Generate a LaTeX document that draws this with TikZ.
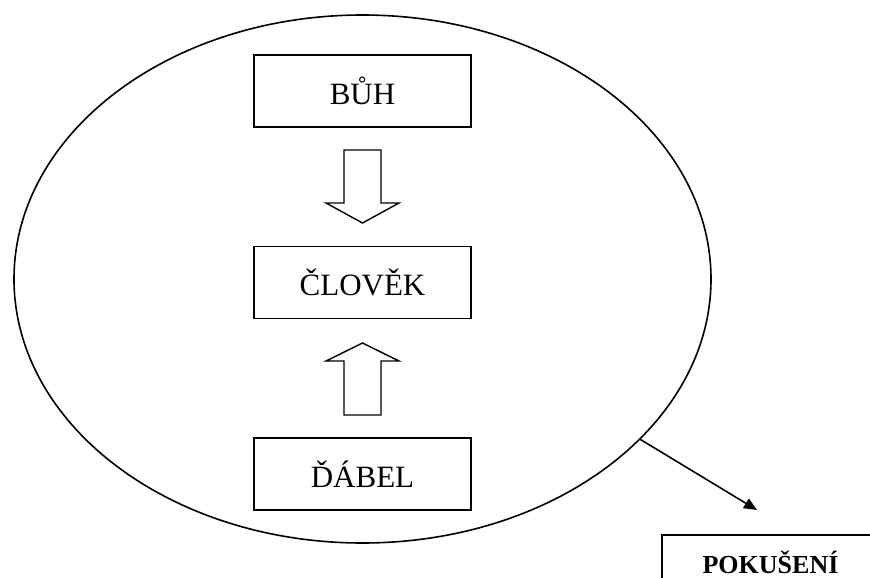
\documentclass[tikz,border=0pt]{standalone}
\usepackage{fontspec}
\setmainfont{Liberation Serif}
\usetikzlibrary{shapes.geometric,arrows.meta}
\begin{document}
\begin{tikzpicture}[x=1pt,y=-1pt,
  line width=1.6pt,
  wordbox/.style={draw, rectangle, minimum width=217pt, minimum height=72pt, inner sep=0pt,
    font=\fontsize{31}{31}\selectfont},
  blockarrow/.style={draw, line width=1.4pt, line join=miter, fill=white}]
\useasboundingbox (0,0) rectangle (870,578);
\clip (0,0) rectangle (870,578);
\node[draw, ellipse, minimum width=697pt, minimum height=528pt, inner sep=0pt] (E) at (362.5,279) {};
\node[wordbox] (buh) at (362.5,91) {BŮH};
\node[wordbox] (clovek) at (362.5,282.5) {ČLOVĚK};
\node[wordbox] (dabel) at (362.5,474) {ĎÁBEL};
% block arrow down
\draw[blockarrow] (344,150) -- (381,150) -- (381,203) -- (399,203) -- (362.5,223) -- (326,203) -- (344,203) -- cycle;
% block arrow up
\draw[blockarrow] (344,415) -- (381,415) -- (381,361) -- (399,361) -- (362.5,343) -- (326,361) -- (344,361) -- cycle;
\node[draw, rectangle, minimum width=217pt, minimum height=54pt, inner sep=0pt,
  font=\fontsize{26}{26}\selectfont\bfseries] (pok) at (770.5,562) {POKUŠENÍ};
\coordinate (tip) at (757,510);
\draw[line width=1.6pt, -{Triangle[length=13pt,width=11pt]}] (E.-30) -- (tip);
\end{tikzpicture}
\end{document}
